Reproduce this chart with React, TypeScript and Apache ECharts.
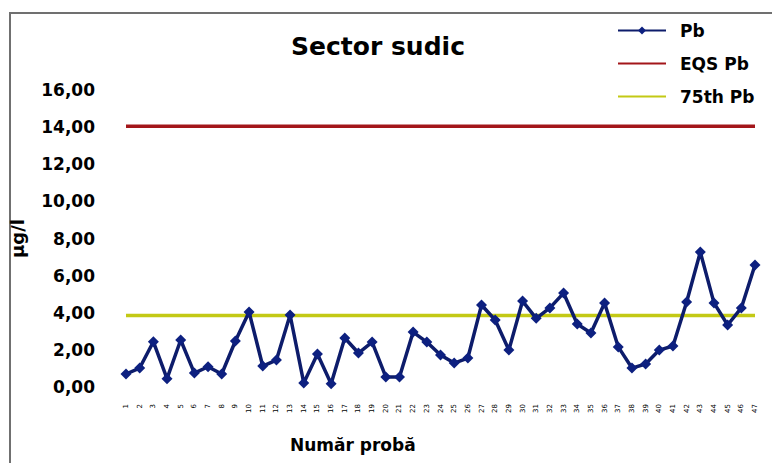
import React, { useEffect, useRef } from "react";
import * as echarts from "echarts";

const categories: string[] = [
  "1","2","3","4","5","6","7","8","9","10","11","12","13","14","15","16","17","18","19","20",
  "21","22","23","24","25","26","27","28","29","30","31","32","33","34","35","36","37","38","39","40",
  "41","42","43","44","45","46","47",
];

const pbValues: number[] = [
  0.7, 1.02, 2.44, 0.45, 2.53, 0.75, 1.09, 0.7, 2.48, 4.04,
  1.13, 1.45, 3.88, 0.22, 1.78, 0.18, 2.64, 1.83, 2.42, 0.54,
  0.54, 2.96, 2.42, 1.72, 1.29, 1.56, 4.42, 3.61, 1.99, 4.63,
  3.7, 4.26, 5.06, 3.39, 2.91, 4.53, 2.16, 1.02, 1.24, 1.99,
  2.21, 4.58, 7.27, 4.53, 3.34, 4.26, 6.57,
];

const EQS_PB = 14.05;
const P75_PB = 3.85;

const yTicks = { min: 0, max: 16, interval: 2 };

const FONT = "DejaVu Sans";

export default function App() {
  const ref = useRef<HTMLDivElement>(null);
  useEffect(() => {
    if (!ref.current) return;
    const chart = echarts.init(ref.current, undefined, { renderer: "svg" });
    chart.setOption({
      animation: false,
      backgroundColor: "#ffffff",
      title: {
        text: "Sector sudic",
        left: 373,
        top: 29,
        textAlign: "center",
        textStyle: { fontFamily: FONT, fontWeight: "bold", fontSize: 25, color: "#000" },
      },
      legend: {
        orient: "vertical",
        left: 612,
        top: 17,
        itemWidth: 48,
        itemHeight: 10,
        itemGap: 16,
        textStyle: {
          fontFamily: FONT,
          fontWeight: "bold",
          fontSize: 17,
          color: "#000",
          padding: [0, 0, 0, 9],
        },
        data: [
          "Pb",
          { name: "EQS Pb", itemStyle: { opacity: 0 } },
          { name: "75th Pb", itemStyle: { opacity: 0 } },
        ],
      },
      grid: { left: 122, right: 17, top: 90, bottom: 76 },
      xAxis: {
        type: "category",
        data: categories,
        boundaryGap: false,
        axisLine: { show: false },
        axisTick: { show: false },
        axisLabel: {
          interval: 0,
          rotate: 90,
          fontSize: 7,
          fontFamily: FONT,
          color: "#000",
          margin: 17,
        },
      },
      yAxis: {
        type: "value",
        min: yTicks.min,
        max: yTicks.max,
        interval: yTicks.interval,
        name: "µg/l",
        nameLocation: "middle",
        nameGap: 100,
        nameTextStyle: { fontFamily: FONT, fontWeight: "bold", fontSize: 18, color: "#000" },
        axisLine: { show: false },
        axisTick: { show: false },
        splitLine: { show: false },
        axisLabel: {
          formatter: (v: number) => v.toFixed(2).replace(".", ","),
          fontFamily: FONT,
          fontWeight: "bold",
          fontSize: 17,
          color: "#000",
          margin: 31,
        },
      },
      graphic: [
        {
          type: "polyline",
          shape: { points: [[10, 463], [10, 13], [772, 13]] },
          style: { stroke: "#707070", lineWidth: 2, fill: "none" },
        },
        {
          type: "text",
          left: 290,
          top: 436,
          style: {
            text: "Număr probă",
            fontFamily: FONT,
            fontWeight: "bold",
            fontSize: 17,
            fill: "#000",
          },
        },
      ],
      series: [
        {
          name: "EQS Pb",
          type: "line",
          data: categories.map(() => EQS_PB),
          symbol: "none",
          lineStyle: { color: "#a3161a", width: 3.5 },
          itemStyle: { color: "#a3161a" },
          z: 1,
        },
        {
          name: "75th Pb",
          type: "line",
          data: categories.map(() => P75_PB),
          symbol: "none",
          lineStyle: { color: "#c3c915", width: 3.5 },
          itemStyle: { color: "#c3c915" },
          z: 1,
        },
        {
          name: "Pb",
          type: "line",
          data: pbValues,
          symbol: "diamond",
          symbolSize: 11,
          lineStyle: { color: "#0d1c6b", width: 3.5 },
          itemStyle: { color: "#0d2080" },
          z: 3,
        },
      ],
    });
    return () => chart.dispose();
  }, []);
  return (
    <div
      ref={ref}
      style={{ position: "fixed", left: 0, top: 0, width: 772, height: 463 }}
    />
  );
}
